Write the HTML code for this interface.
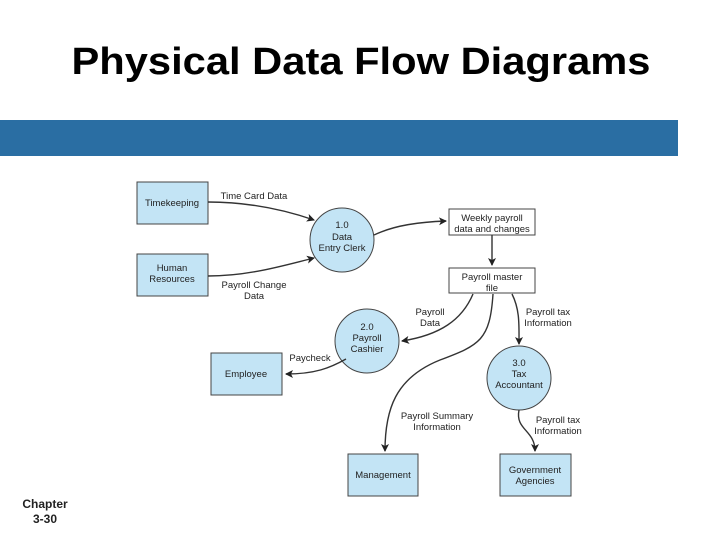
<!DOCTYPE html>
<html><head><meta charset="utf-8"><style>
html,body{margin:0;padding:0;background:#fff;}
svg{display:block;font-family:"Liberation Sans",Arial,sans-serif;}
</style></head><body>
<svg width="720" height="540" viewBox="0 0 720 540" xmlns="http://www.w3.org/2000/svg">
<defs><marker id="a" markerWidth="8" markerHeight="8" refX="7" refY="4" orient="auto" markerUnits="userSpaceOnUse"><path d="M0,0 L8,4 L0,8 L2,4 Z" fill="#222"/></marker></defs>
<text x="361" y="74" text-anchor="middle" font-size="38" font-weight="bold" textLength="579" lengthAdjust="spacingAndGlyphs">Physical Data Flow Diagrams</text>
<rect x="0" y="120" width="678" height="36" fill="#2a6ea3"/>
<text x="45" y="508" text-anchor="middle" font-size="12" font-weight="bold" fill="#222">Chapter</text>
<text x="45" y="523" text-anchor="middle" font-size="12" font-weight="bold" fill="#222">3-30</text>
<g stroke="#444" stroke-width="1" fill="#c3e4f5">
<rect x="137" y="182" width="71" height="42"/>
<rect x="137" y="254" width="71" height="42"/>
<rect x="211" y="353" width="71" height="42"/>
<rect x="348" y="454" width="70" height="42"/>
<rect x="500" y="454" width="71" height="42"/>
<circle cx="342" cy="240" r="32"/>
<circle cx="367" cy="341" r="32"/>
<circle cx="519" cy="378" r="32"/>
<rect x="449" y="209" width="86" height="26" fill="#fff"/>
<rect x="449" y="268" width="86" height="25" fill="#fff"/>
</g>
<g stroke="#333" stroke-width="1.4" fill="none" marker-end="url(#a)">
<path d="M208,202 C250,202 285,210 314,220"/>
<path d="M208,276 C250,276 285,265 314,258"/>
<path d="M374,235 C395,225 420,222 446,221"/>
<path d="M492,235 L492,265"/>
<path d="M473,294 C462,320 440,335 402,341"/>
<path d="M346,359 C330,368 315,374 286,374"/>
<path d="M493,294 C490,340 480,345 440,360 C395,378 385,410 385,451"/>
<path d="M512,294 C520,310 519,325 519,344"/>
<path d="M519,410 C515,430 535,430 535,451"/>
</g>
<g font-size="9.5" fill="#222" text-anchor="middle">
<text x="254" y="199">Time Card Data</text>
<text x="254" y="288">Payroll Change</text><text x="254" y="299">Data</text>
<text x="342" y="228">1.0</text><text x="342" y="240">Data</text><text x="342" y="251">Entry Clerk</text>
<text x="492" y="221">Weekly payroll</text><text x="492" y="232">data and changes</text>
<text x="492" y="280">Payroll master</text><text x="492" y="291">file</text>
<text x="430" y="315">Payroll</text><text x="430" y="326">Data</text>
<text x="548" y="315">Payroll tax</text><text x="548" y="326">Information</text>
<text x="367" y="330">2.0</text><text x="367" y="341">Payroll</text><text x="367" y="352">Cashier</text>
<text x="310" y="361">Paycheck</text>
<text x="246" y="377">Employee</text>
<text x="519" y="366">3.0</text><text x="519" y="377">Tax</text><text x="519" y="388">Accountant</text>
<text x="437" y="419">Payroll Summary</text><text x="437" y="430">Information</text>
<text x="558" y="423">Payroll tax</text><text x="558" y="434">Information</text>
<text x="383" y="478">Management</text>
<text x="535" y="473">Government</text><text x="535" y="484">Agencies</text>
<text x="172" y="206">Timekeeping</text>
<text x="172" y="271">Human</text><text x="172" y="282">Resources</text>
</g>
</svg>
</body></html>
